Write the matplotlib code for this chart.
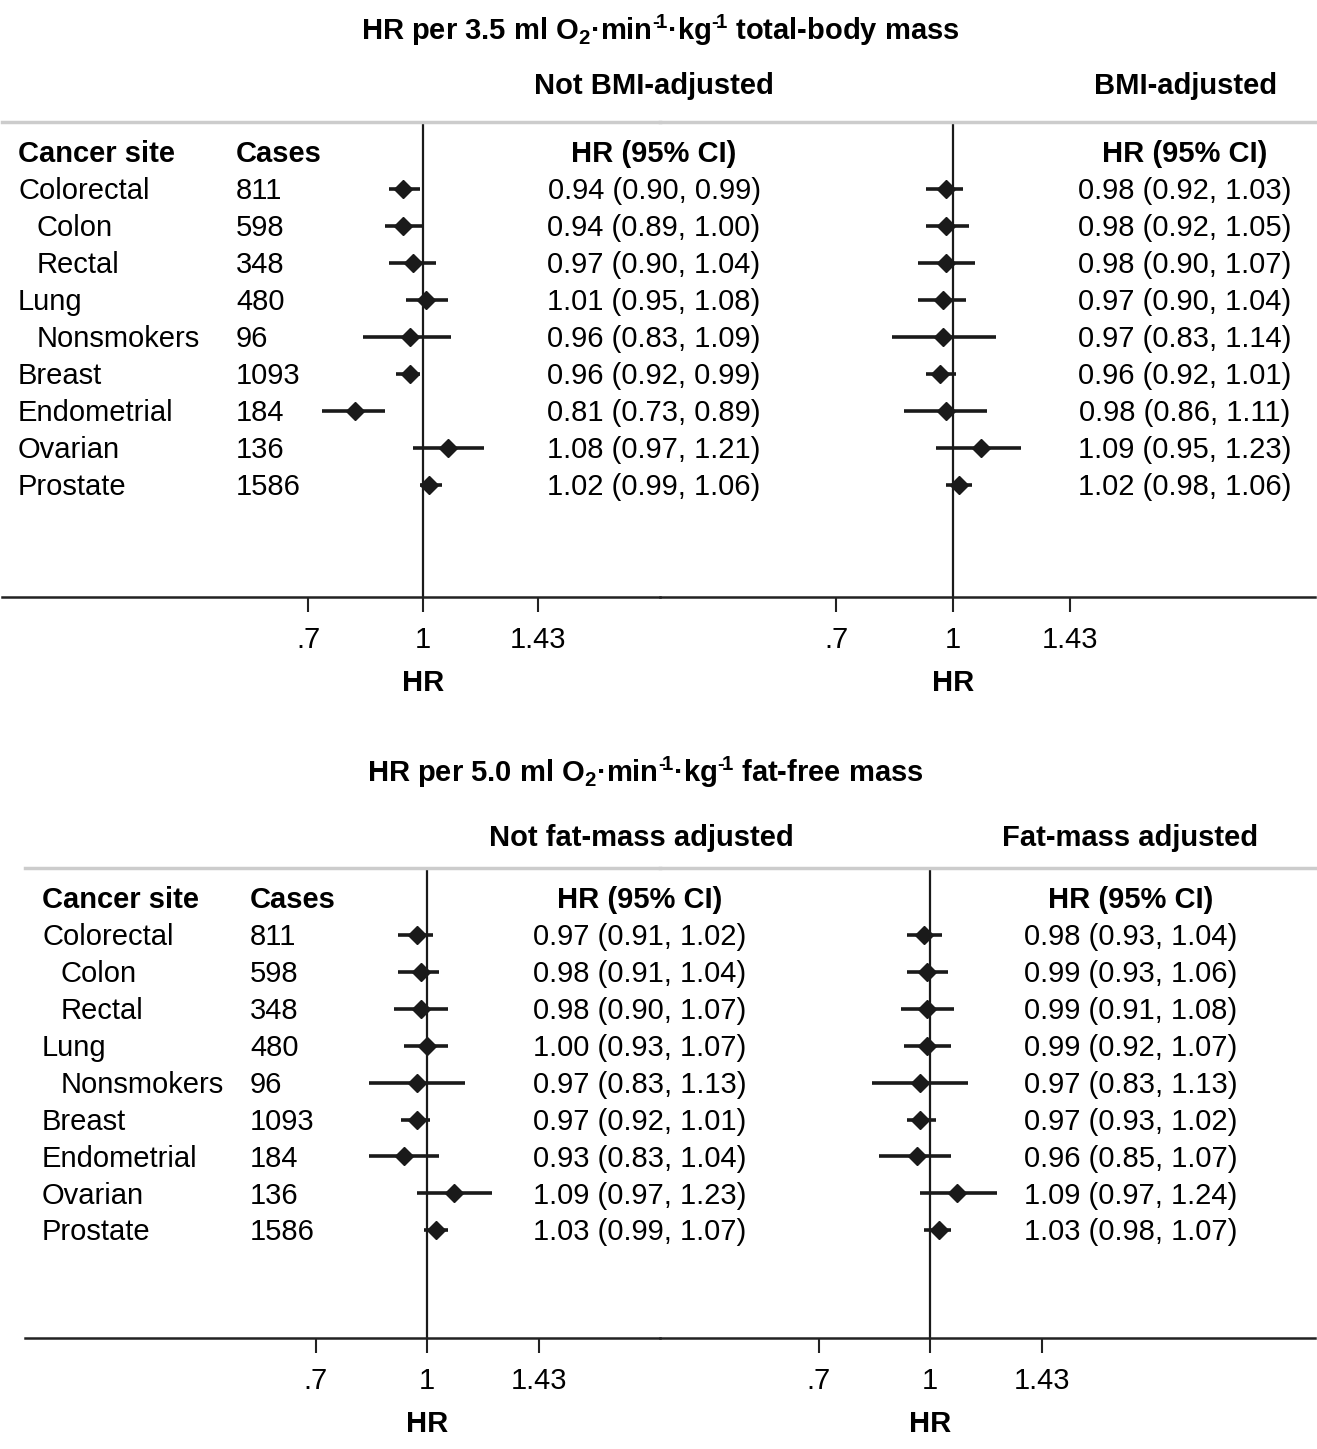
import numpy as np
import matplotlib
matplotlib.use("Agg")
import matplotlib.pyplot as plt
from matplotlib import transforms

plt.rcParams['font.family'] = ['Liberation Sans', 'DejaVu Sans']
plt.rcParams['mathtext.fontset'] = 'custom'
plt.rcParams['mathtext.rm'] = 'Liberation Sans:bold'
plt.rcParams['mathtext.default'] = 'rm'

# ---- data ----
sites = ["Colorectal", "Colon", "Rectal", "Lung", "Nonsmokers",
         "Breast", "Endometrial", "Ovarian", "Prostate"]
indent = [False, True, True, False, True, False, False, False, False]
cases = [811, 598, 348, 480, 96, 1093, 184, 136, 1586]

# total-body mass, not BMI-adjusted
tb_hr = [0.94, 0.94, 0.97, 1.01, 0.96, 0.96, 0.81, 1.08, 1.02]
tb_lo = [0.90, 0.89, 0.90, 0.95, 0.83, 0.92, 0.73, 0.97, 0.99]
tb_hi = [0.99, 1.00, 1.04, 1.08, 1.09, 0.99, 0.89, 1.21, 1.06]
# total-body mass, BMI-adjusted
tbb_hr = [0.98, 0.98, 0.98, 0.97, 0.97, 0.96, 0.98, 1.09, 1.02]
tbb_lo = [0.92, 0.92, 0.90, 0.90, 0.83, 0.92, 0.86, 0.95, 0.98]
tbb_hi = [1.03, 1.05, 1.07, 1.04, 1.14, 1.01, 1.11, 1.23, 1.06]
# fat-free mass, not fat-mass adjusted
ff_hr = [0.97, 0.98, 0.98, 1.00, 0.97, 0.97, 0.93, 1.09, 1.03]
ff_lo = [0.91, 0.91, 0.90, 0.93, 0.83, 0.92, 0.83, 0.97, 0.99]
ff_hi = [1.02, 1.04, 1.07, 1.07, 1.13, 1.01, 1.04, 1.23, 1.07]
# fat-free mass, fat-mass adjusted
ffa_hr = [0.98, 0.99, 0.99, 0.99, 0.97, 0.97, 0.96, 1.09, 1.03]
ffa_lo = [0.93, 0.93, 0.91, 0.92, 0.83, 0.93, 0.85, 0.97, 0.98]
ffa_hi = [1.04, 1.06, 1.08, 1.07, 1.13, 1.02, 1.07, 1.24, 1.07]

tick_vals = [0.7, 1, 1.43]
tick_labels = [".7", "1", "1.43"]

# ---- layout (pixels) ----
W, H = 1317, 1449
FS = 21
fig = plt.figure(figsize=(W / 100, H / 100), dpi=100)


def fx(x):
    return x / W


def fy(y):
    return 1 - y / H


def make_axes(xl, xr, vline, scale, ytop, yaxis, y0, dy):
    ax = fig.add_axes([fx(xl), fy(yaxis), (xr - xl) / W, (yaxis - ytop) / H])
    ax.patch.set_visible(False)
    ax.set_xscale('log')
    ax.set_xlim(np.exp((xl - vline) / scale), np.exp((xr - vline) / scale))
    ax.set_ylim((yaxis - y0) / dy, (ytop - y0) / dy)
    for s in ['left', 'right']:
        ax.spines[s].set_visible(False)
    ax.spines['top'].set_color('#cccccc')
    ax.spines['top'].set_linewidth(2.5)
    ax.spines['bottom'].set_color('#222222')
    ax.spines['bottom'].set_linewidth(1.8)
    ax.set_yticks([])
    ax.xaxis.set_minor_locator(matplotlib.ticker.NullLocator())
    ax.set_xticks(tick_vals)
    ax.set_xticklabels(tick_labels)
    ax.tick_params(axis='x', length=11, width=1.5, pad=10, labelsize=FS,
                   color='#222222')
    # axis title "HR" centred under the null line, 86 px below the axis
    trx = transforms.blended_transform_factory(ax.transData, ax.transAxes)
    ax.text(1, -86 / (yaxis - ytop), "HR", transform=trx, ha='center',
            va='center', fontsize=FS, fontweight='bold')
    ax.axvline(1, color='#1a1a1a', lw=1.6, zorder=1)
    return ax


def forest(ax, hr, lo, hi):
    rows = np.arange(len(hr))
    ax.hlines(rows, lo, hi, color='#1a1a1a', lw=2.6, zorder=2)
    ax.plot(hr, rows, 'D', color='#1a1a1a', ms=9, zorder=3)


TOFF = 0.06  # small downward nudge of row text


def hr_text(ax, xc, hr, lo, hi):
    tr = transforms.blended_transform_factory(fig.transFigure, ax.transData)
    ax.text(fx(xc), -1 + TOFF, "HR (95% CI)", transform=tr, ha='center',
            va='center', fontsize=FS, fontweight='bold')
    for i in range(len(hr)):
        ax.text(fx(xc), i + TOFF, f"{hr[i]:.2f} ({lo[i]:.2f}, {hi[i]:.2f})",
                transform=tr, ha='center', va='center', fontsize=FS)


def site_text(ax, xs, xc):
    tr = transforms.blended_transform_factory(fig.transFigure, ax.transData)
    ax.text(fx(xs), -1 + TOFF, "Cancer site", transform=tr, va='center',
            fontsize=FS, fontweight='bold')
    ax.text(fx(xc), -1 + TOFF, "Cases", transform=tr, va='center',
            fontsize=FS, fontweight='bold')
    for i, (s, n) in enumerate(zip(sites, cases)):
        ax.text(fx(xs + (19 if indent[i] else 0)), i + TOFF, s, transform=tr,
                va='center', fontsize=FS)
        ax.text(fx(xc), i + TOFF, str(n), transform=tr, va='center', fontsize=FS)


SUP = "$^{\u2010\\!1}$"

# ---- top panel: total-body mass ----
fig.text(fx(660), fy(30), "HR per 3.5 ml O$_2$·min" + SUP + "·kg" + SUP + " total-body mass",
         ha='center', va='center', fontsize=FS, fontweight='bold')
fig.text(fx(654), fy(86), "Not BMI-adjusted", ha='center', va='center',
         fontsize=FS, fontweight='bold')
fig.text(fx(1186), fy(86), "BMI-adjusted", ha='center', va='center',
         fontsize=FS, fontweight='bold')

ax1 = make_axes(2, 660, 423, 322, 122, 597, 189, 37)
forest(ax1, tb_hr, tb_lo, tb_hi)
site_text(ax1, 18, 236)
hr_text(ax1, 654, tb_hr, tb_lo, tb_hi)

ax2 = make_axes(660, 1315, 953, 328, 122, 597, 189, 37)
forest(ax2, tbb_hr, tbb_lo, tbb_hi)
hr_text(ax2, 1185, tbb_hr, tbb_lo, tbb_hi)

# ---- bottom panel: fat-free mass ----
fig.text(fx(645), fy(772), "HR per 5.0 ml O$_2$·min" + SUP + "·kg" + SUP + " fat-free mass",
         ha='center', va='center', fontsize=FS, fontweight='bold')
fig.text(fx(641), fy(838), "Not fat-mass adjusted", ha='center', va='center',
         fontsize=FS, fontweight='bold')
fig.text(fx(1130), fy(838), "Fat-mass adjusted", ha='center', va='center',
         fontsize=FS, fontweight='bold')

ax3 = make_axes(25, 660, 427, 312, 868, 1338, 935, 36.9)
forest(ax3, ff_hr, ff_lo, ff_hi)
site_text(ax3, 42, 250)
hr_text(ax3, 640, ff_hr, ff_lo, ff_hi)

ax4 = make_axes(660, 1315, 930, 312, 868, 1338, 935, 36.9)
forest(ax4, ffa_hr, ffa_lo, ffa_hi)
hr_text(ax4, 1131, ffa_hr, ffa_lo, ffa_hi)

fig.savefig("out.png", dpi=100)
